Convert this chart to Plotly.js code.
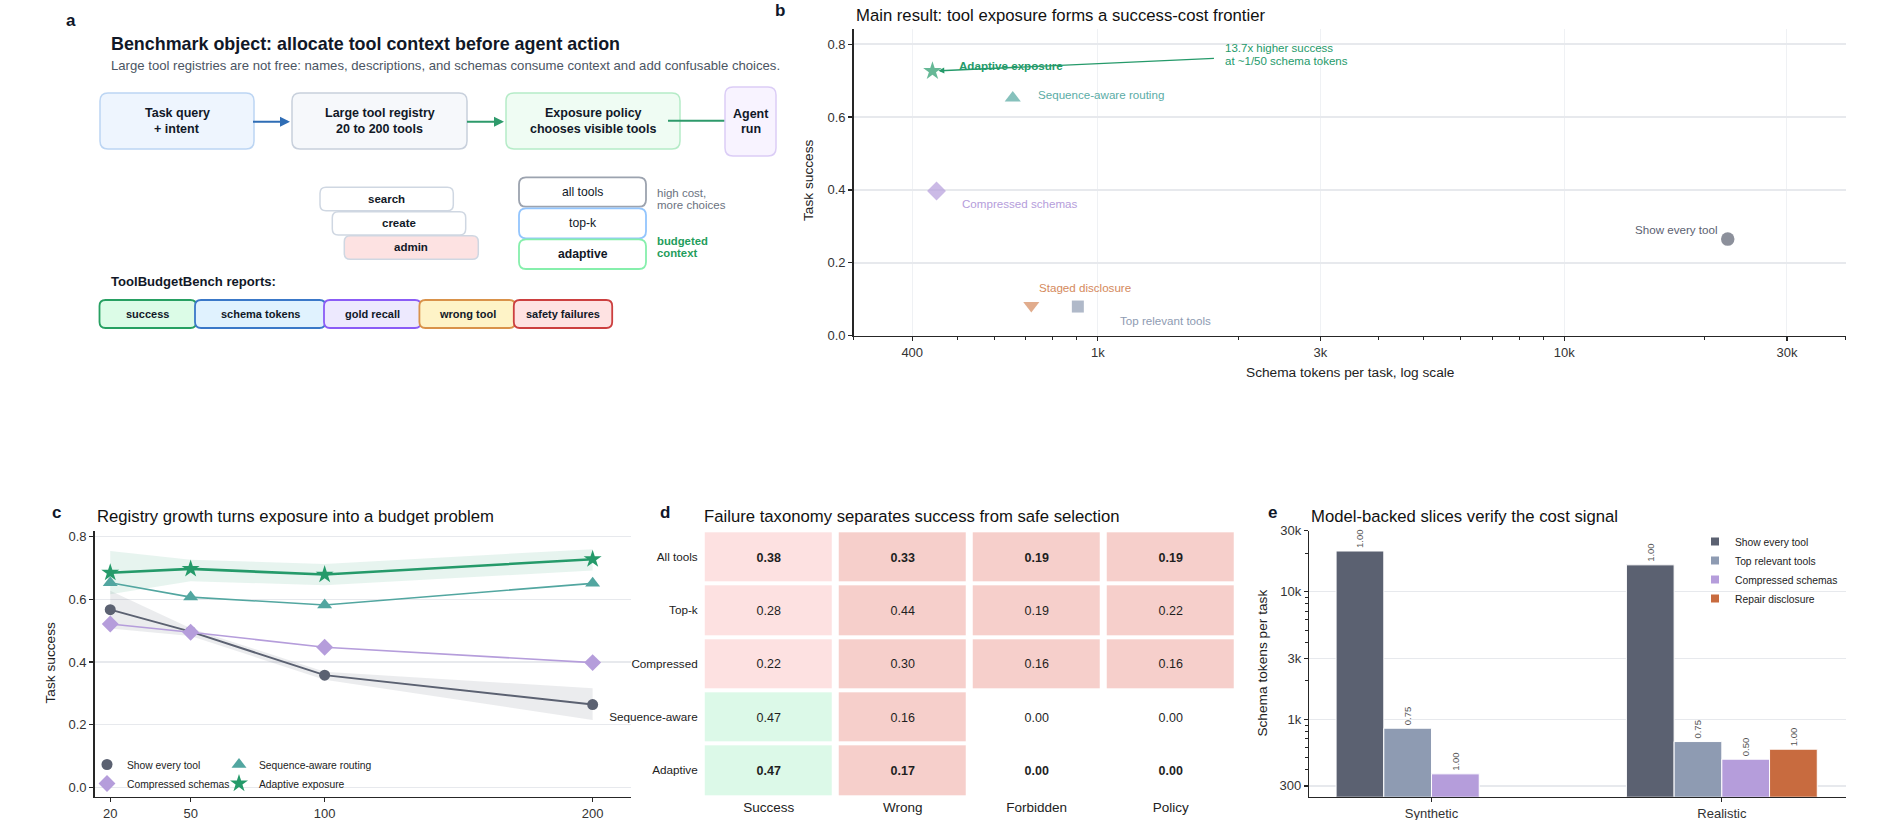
<!DOCTYPE html>
<html>
<head>
<meta charset="utf-8">
<script src="https://cdn.plot.ly/plotly-3.0.1.min.js"></script>
<style>
html,body{margin:0;padding:0;background:#ffffff;overflow:hidden}
#fig{width:1900px;height:820px}
</style>
</head>
<body>
<div id="fig"></div>
<script>
// ================= DATA =================
// Panel a (diagram labels)
const flowSteps = [['Task query','+ intent'], ['Large tool registry','20 to 200 tools'], ['Exposure policy','chooses visible tools'], ['Agent','run']];
const registryTools = ['search', 'create', 'admin'];
const exposureModes = ['all tools', 'top-k', 'adaptive'];
const reportMetrics = ['success', 'schema tokens', 'gold recall', 'wrong tool', 'safety failures'];

// Panel b: success-cost frontier
const frontierPolicies = ['Show every tool', 'Top relevant tools', 'Compressed schemas', 'Staged disclosure', 'Sequence-aware routing', 'Adaptive exposure'];
const frontierTokens  = [22400, 906, 451, 720, 657, 442];
const frontierSuccess = [0.265, 0.080, 0.397, 0.083, 0.652, 0.726];

// Panel c: registry growth
const registrySizes = [20, 50, 100, 200];
const showEverySuccess  = [0.567, 0.497, 0.358, 0.264];
const showEveryLow      = [0.507, 0.483, 0.343, 0.215];
const showEveryHigh     = [0.627, 0.508, 0.369, 0.316];
const compressedSuccess = [0.521, 0.495, 0.447, 0.398];
const sequenceSuccess   = [0.653, 0.607, 0.582, 0.651];
const adaptiveSuccess   = [0.685, 0.697, 0.679, 0.728];
const adaptiveLow       = [0.616, 0.658, 0.645, 0.692];
const adaptiveHigh      = [0.754, 0.726, 0.713, 0.760];

// Panel d: failure taxonomy
const taxonomyRows = ['All tools', 'Top-k', 'Compressed', 'Sequence-aware', 'Adaptive'];
const taxonomyCols = ['Success', 'Wrong<br>tool', 'Forbidden', 'Policy<br>violation'];
const successRate         = [0.38, 0.28, 0.22, 0.47, 0.47];
const wrongToolRate       = [0.33, 0.44, 0.30, 0.16, 0.17];
const forbiddenRate       = [0.19, 0.19, 0.16, 0.00, 0.00];
const policyViolationRate = [0.19, 0.22, 0.16, 0.00, 0.00];
const highlightedRows = ['All tools', 'Adaptive'];

// Panel e: model-backed slices
const slices = ['Synthetic', 'Realistic'];
const showEveryTokens   = [20800, 16200];
const topRelevantTokens = [850, 668];
const compressedTokens  = [373, 486];
const repairTokens      = [null, 582];
const showEverySliceSuccess   = [1.00, 1.00];
const topRelevantSliceSuccess = [0.75, 0.75];
const compressedSliceSuccess  = [1.00, 0.50];
const repairSliceSuccess      = [null, 1.00];

// ================= STYLE / LAYOUT HELPERS =================
const W = 1900, H = 820;
const fx = x => x / W;
const fy = y => 1 - y / H;
const FONT = 'Liberation Sans, Arial, Helvetica, sans-serif';
const INK = '#111827';
const f = (size, color, weight) => ({family: FONT, size: size, color: color || INK, weight: weight || 400});

const C = {
  every: '#5b6171', top: '#8e9bb2', comp: '#b59ddb', staged: '#d4895c',
  seq: '#52a6a0', adapt: '#259a6a', repair: '#c86b3f'
};

const shapes = [];
const ann = [];
function txt(x, y, t, o) {
  ann.push(Object.assign({xref: 'paper', yref: 'paper', x: fx(x), y: fy(y), text: t, showarrow: false,
    xanchor: 'center', yanchor: 'middle', font: f(12)}, o || {}));
}
function rrect(x0, y0, x1, y1, r) {
  const rx = r / W, ry = r / H;
  const X0 = fx(x0), X1 = fx(x1), T = fy(y0), B = fy(y1);
  return `M${X0 + rx},${T} L${X1 - rx},${T} Q${X1},${T} ${X1},${T - ry} L${X1},${B + ry} Q${X1},${B} ${X1 - rx},${B} ` +
         `L${X0 + rx},${B} Q${X0},${B} ${X0},${B + ry} L${X0},${T - ry} Q${X0},${T} ${X0 + rx},${T} Z`;
}
function box(x0, y0, x1, y1, r, fill, line, lw) {
  shapes.push({type: 'path', xref: 'paper', yref: 'paper', path: rrect(x0, y0, x1, y1, r),
    fillcolor: fill, line: {color: line, width: lw || 1.5}, layer: 'above'});
}

// ================= PANEL a (diagram) =================
txt(71, 20, 'a', {font: f(17, '#0f172a', 700)});
txt(108.7, 44, 'Benchmark object: allocate tool context before agent action', {xanchor: 'left', font: f(17.9, INK, 700)});
txt(108.7, 66, 'Large tool registries are not free: names, descriptions, and schemas consume context and add confusable choices.', {xanchor: 'left', font: f(13.15, '#4b5563')});

const flowGeom = [
  {x0: 100, y0: 93, x1: 254, y1: 149, fill: '#eef5fe', line: '#bcd5f3'},
  {x0: 292, y0: 93, x1: 467, y1: 149, fill: '#f6f8fb', line: '#c8d0dc'},
  {x0: 506, y0: 93, x1: 680, y1: 149, fill: '#effcf3', line: '#b5ebc7'},
  {x0: 725, y0: 87, x1: 776, y1: 156, fill: '#f8f3ff', line: '#dbcdf6'}
];
ann.push({xref: 'paper', yref: 'paper', x: fx(290), y: fy(121.7), ax: -38.5, ay: 0, text: '', showarrow: true,
  arrowhead: 2, arrowsize: 1, arrowwidth: 2, arrowcolor: '#2f6db5', standoff: 0});
ann.push({xref: 'paper', yref: 'paper', x: fx(504), y: fy(121.7), ax: -38.5, ay: 0, text: '', showarrow: true,
  arrowhead: 2, arrowsize: 1, arrowwidth: 2, arrowcolor: '#2e9a6b', standoff: 0});
flowGeom.forEach((g, i) => {
  if (i === 3) {
    shapes.push({type: 'line', xref: 'paper', yref: 'paper', x0: fx(668), x1: fx(726), y0: fy(120.7), y1: fy(120.7),
      line: {color: '#2e9a6b', width: 2}, layer: 'above'});
  }
  box(g.x0, g.y0, g.x1, g.y1, 8, g.fill, g.line, 1.5);
  const cx = (g.x0 + g.x1) / 2, cy = (g.y0 + g.y1) / 2;
  txt(cx, cy - 7.6, flowSteps[i][0], {font: f(12.5, INK, 700)});
  txt(cx, cy + 7.6, flowSteps[i][1], {font: f(12.5, INK, 700)});
});

const toolGeom = [
  {x0: 320, y0: 187.3, x1: 453.3, y1: 210.7, fill: '#ffffff'},
  {x0: 332.3, y0: 211.7, x1: 465.7, y1: 235, fill: '#ffffff'},
  {x0: 344.3, y0: 235.7, x1: 478.3, y1: 259.3, fill: '#fde2e2'}
];
toolGeom.forEach((g, i) => {
  box(g.x0, g.y0, g.x1, g.y1, 6, g.fill, '#cfd7e2', 1.5);
  txt((g.x0 + g.x1) / 2, (g.y0 + g.y1) / 2, registryTools[i], {font: f(11.5, INK, 700)});
});

const modeGeom = [
  {y0: 177.3, y1: 206.7, line: '#9ca3af', w: 400},
  {y0: 208.3, y1: 238.3, line: '#93c5fd', w: 400},
  {y0: 239.3, y1: 269, line: '#86efac', w: 700}
];
modeGeom.forEach((g, i) => {
  box(519, g.y0, 646, g.y1, 7, '#ffffff', g.line, 1.8);
  txt(582.5, (g.y0 + g.y1) / 2, exposureModes[i], {font: f(12.2, INK, g.w)});
});
txt(655, 192.7, 'high cost,', {xanchor: 'left', font: f(11.5, '#6b7280')});
txt(655, 205, 'more choices', {xanchor: 'left', font: f(11.5, '#6b7280')});
txt(655, 241, 'budgeted', {xanchor: 'left', font: f(11.3, '#1f9d5c', 700)});
txt(655, 253.5, 'context', {xanchor: 'left', font: f(11.3, '#1f9d5c', 700)});

txt(108.7, 281.7, 'ToolBudgetBench reports:', {xanchor: 'left', font: f(13.1, INK, 700)});
const reportGeom = [
  {x0: 99.5, x1: 196.4, fill: '#dcfce7', line: '#27a062'},
  {x0: 195, x1: 325.5, fill: '#e0f2fe', line: '#3a78c8'},
  {x0: 324, x1: 421, fill: '#ede9fe', line: '#8b5cf6'},
  {x0: 419.4, x1: 515.3, fill: '#fef3c7', line: '#d9924a'},
  {x0: 513.8, x1: 612.2, fill: '#fee2e2', line: '#cc3f3f'}
];
reportGeom.forEach((g, i) => {
  box(g.x0, 300, g.x1, 328, 6, g.fill, g.line, 1.8);
  txt((g.x0 + g.x1) / 2, 314, reportMetrics[i], {font: f(11, INK, 700)});
});

// ================= PANEL TITLES / LABELS =================
txt(780, 10, 'b', {font: f(17, '#0f172a', 700)});
txt(853.6, 15, 'Main result: tool exposure forms a success-cost frontier', {xanchor: 'left', font: f(16.7, '#111')});
txt(809, 180, 'Task success', {textangle: -90, font: f(13.7, '#222')});
txt(1349.6, 372.7, 'Schema tokens per task, log scale', {font: f(13.7, '#222')});

txt(56.5, 512.5, 'c', {font: f(17, '#0f172a', 700)});
txt(94.7, 516, 'Registry growth turns exposure into a budget problem', {xanchor: 'left', font: f(16.7, '#111')});
txt(49.5, 663, 'Task success', {textangle: -90, font: f(13.7, '#222')});

txt(665, 512, 'd', {font: f(17, '#0f172a', 700)});
txt(702, 516, 'Failure taxonomy separates success from safe selection', {xanchor: 'left', font: f(16.7, '#111')});

txt(1272, 512.5, 'e', {font: f(17, '#0f172a', 700)});
txt(1309.3, 516, 'Model-backed slices verify the cost signal', {xanchor: 'left', font: f(16.7, '#111')});
txt(1261.6, 663, 'Schema tokens per task', {textangle: -90, font: f(13.7, '#222')});

// ================= PANEL b traces & labels =================
const frontierColors = [C.every, C.top, C.comp, C.staged, C.seq, C.adapt];
const frontierSymbols = ['circle', 'square', 'diamond', 'triangle-down', 'triangle-up', 'star'];
const frontierSizes = [13.5, 12, 14.5, 14, 14, 14];
const traces = [];
traces.push({type: 'scatter', mode: 'markers', x: frontierTokens, y: frontierSuccess, text: frontierPolicies,
  marker: {color: frontierColors, symbol: frontierSymbols, size: frontierSizes, line: {width: 0}},
  xaxis: 'x', yaxis: 'y', showlegend: false, hoverinfo: 'text', cliponaxis: false});

const frontierLabelStyle = {
  'Show every tool':       {dx: -8,   dy: 10,  anchor: 'right', color: C.every, w: 400},
  'Top relevant tools':    {dx: 40,   dy: -13.6, anchor: 'left', color: C.top, w: 400},
  'Compressed schemas':    {dx: 23.6, dy: -12.3, anchor: 'left', color: C.comp, w: 400},
  'Staged disclosure':     {dx: 5.6,  dy: 18,  anchor: 'left', color: C.staged, w: 400},
  'Sequence-aware routing':{dx: 23,   dy: 4,   anchor: 'left', color: '#5aaca6', w: 400},
  'Adaptive exposure':     {dx: 24.4, dy: 6,   anchor: 'left', color: C.adapt, w: 700}
};
frontierPolicies.forEach((p, i) => {
  const s = frontierLabelStyle[p];
  ann.push({xref: 'x', yref: 'y', x: Math.log10(frontierTokens[i]), y: frontierSuccess[i], text: p, showarrow: false,
    xanchor: s.anchor, yanchor: 'middle', xshift: s.dx, yshift: s.dy, font: f(11.6, s.color, s.w)});
});
const iAd = frontierPolicies.indexOf('Adaptive exposure');
ann.push({xref: 'x', yref: 'y', x: Math.log10(frontierTokens[iAd]), y: frontierSuccess[iAd], text: '', showarrow: true,
  ax: 283, ay: -12.7, arrowhead: 2, arrowsize: 0.9, arrowwidth: 1.3, arrowcolor: C.adapt, standoff: 6});
ann.push({xref: 'x', yref: 'y', x: Math.log10(frontierTokens[iAd]), y: frontierSuccess[iAd], text: '13.7x higher success',
  showarrow: false, xanchor: 'left', yanchor: 'middle', xshift: 290.6, yshift: 23.3, font: f(11.5, C.adapt)});
ann.push({xref: 'x', yref: 'y', x: Math.log10(frontierTokens[iAd]), y: frontierSuccess[iAd], text: 'at ~1/50 schema tokens',
  showarrow: false, xanchor: 'left', yanchor: 'middle', xshift: 290.6, yshift: 9.7, font: f(11.5, C.adapt)});

// ================= PANEL c traces =================
const band = (lo, hi, color) => ({type: 'scatter', mode: 'lines', x: registrySizes.concat(registrySizes.slice().reverse()),
  y: hi.concat(lo.slice().reverse()), fill: 'toself', fillcolor: color, line: {width: 0, color: 'rgba(0,0,0,0)'},
  xaxis: 'x2', yaxis: 'y2', showlegend: false, hoverinfo: 'skip'});
traces.push(band(showEveryLow, showEveryHigh, 'rgba(91,97,113,0.12)'));
traces.push(band(adaptiveLow, adaptiveHigh, 'rgba(37,154,106,0.11)'));
const growthSeries = [
  {y: showEverySuccess,  name: 'Show every tool',        color: C.every, symbol: 'circle',      size: 11, lw: 2,   legend: 'legend'},
  {y: compressedSuccess, name: 'Compressed schemas',     color: C.comp,  symbol: 'diamond',     size: 13, lw: 1.6, legend: 'legend'},
  {y: sequenceSuccess,   name: 'Sequence-aware routing', color: C.seq,   symbol: 'triangle-up', size: 13, lw: 1.6, legend: 'legend2'},
  {y: adaptiveSuccess,   name: 'Adaptive exposure',      color: C.adapt, symbol: 'star',        size: 13.5, lw: 2.6, legend: 'legend2'}
];
growthSeries.forEach(s => {
  traces.push({type: 'scatter', mode: 'lines+markers', x: registrySizes, y: s.y, name: s.name,
    line: {color: s.color, width: s.lw}, marker: {color: s.color, symbol: s.symbol, size: s.size},
    xaxis: 'x2', yaxis: 'y2', showlegend: false, cliponaxis: false});
});
// legend entries (marker-only keys, like the reference)
growthSeries.forEach(s => {
  traces.push({type: 'scatter', mode: 'markers', x: [null], y: [null], name: s.name,
    marker: {color: s.color, symbol: s.symbol, size: s.size}, xaxis: 'x2', yaxis: 'y2', legend: s.legend, hoverinfo: 'skip'});
});

// ================= PANEL d heatmap =================
const taxonomyValues = taxonomyRows.map((r, i) => [successRate[i], wrongToolRate[i], forbiddenRate[i], policyViolationRate[i]]);
const colorCode = taxonomyValues.map(row => row.map((v, j) => j === 0 ? (v >= 0.4 ? 3 : 1) : (v > 0 ? 2 : 0)));
const cellText = taxonomyValues.map((row, i) => row.map(v => highlightedRows.includes(taxonomyRows[i]) ? '<b>' + v.toFixed(2) + '</b>' : v.toFixed(2)));
traces.push({type: 'heatmap', x: taxonomyCols, y: taxonomyRows, z: colorCode, zmin: 0, zmax: 3, showscale: false,
  colorscale: [[0, '#ffffff'], [0.1667, '#ffffff'], [0.1667, '#fde1e1'], [0.5, '#fde1e1'], [0.5, '#f6cfcb'], [0.8333, '#f6cfcb'], [0.8333, '#dcf9e8'], [1, '#dcf9e8']],
  text: cellText, texttemplate: '%{text}', textfont: {family: FONT, size: 12.5, color: '#1f1f1f'},
  xgap: 7, ygap: 4, hoverinfo: 'skip', xaxis: 'x3', yaxis: 'y3'});

// ================= PANEL e bars =================
const barSeries = [
  {y: showEveryTokens,   s: showEverySliceSuccess,   name: 'Show every tool',    color: C.every},
  {y: topRelevantTokens, s: topRelevantSliceSuccess, name: 'Top relevant tools', color: C.top},
  {y: compressedTokens,  s: compressedSliceSuccess,  name: 'Compressed schemas', color: C.comp},
  {y: repairTokens,      s: repairSliceSuccess,      name: 'Repair disclosure',  color: C.repair}
];
barSeries.forEach(b => {
  traces.push({type: 'bar', x: slices, y: b.y, name: b.name,
    marker: {color: b.color, line: {color: '#ffffff', width: 1}},
    text: b.s.map(v => v == null ? '' : v.toFixed(2)), textposition: 'outside', textangle: -90, constraintext: 'none',
    textfont: {family: FONT, size: 9.5, color: '#555'}, cliponaxis: false, xaxis: 'x4', yaxis: 'y4', showlegend: false, hoverinfo: 'skip'});
});
barSeries.forEach(b => {
  traces.push({type: 'scatter', mode: 'markers', x: [null], y: [null], name: b.name,
    marker: {color: b.color, symbol: 'square', size: 8}, xaxis: 'x4', yaxis: 'y4', legend: 'legend3', hoverinfo: 'skip'});
});

// ================= AXES =================
const AX = {showline: true, linecolor: '#262626', linewidth: 1.5, ticks: 'outside', ticklen: 4, tickwidth: 1.2,
  tickcolor: '#262626', tickfont: f(13, '#333'), zeroline: false, mirror: false, fixedrange: true};
const GRID = '#e7e9ed';
const LEG = {xanchor: 'left', yanchor: 'top', bgcolor: 'rgba(0,0,0,0)', borderwidth: 0, font: f(10.3, '#222'), itemwidth: 30, tracegroupgap: 0};

const layout = {
  width: W, height: H, margin: {l: 0, r: 0, t: 0, b: 0}, paper_bgcolor: '#ffffff', plot_bgcolor: 'rgba(0,0,0,0)',
  font: {family: FONT, color: '#222'}, showlegend: true, bargap: 0.3425, bargroupgap: 0, barmode: 'group',
  xaxis: Object.assign({}, AX, {domain: [fx(853.6), fx(1845.7)], anchor: 'y', type: 'log',
    range: [Math.log10(299.5), Math.log10(40100)], tickmode: 'array', tickvals: [400, 1000, 3000, 10000, 30000],
    ticktext: ['400', '1k', '3k', '10k', '30k'], showgrid: true, gridcolor: '#eff1f4', gridwidth: 1,
    minor: {tickmode: 'array', tickvals: [300, 500, 600, 700, 800, 900, 2000, 4000, 5000, 6000, 7000, 8000, 9000, 20000, 40000],
      ticks: 'outside', ticklen: 3, tickcolor: '#262626', tickwidth: 1, showgrid: false}}),
  yaxis: Object.assign({}, AX, {domain: [fy(335.7), fy(29.3)], anchor: 'x', range: [0, 0.8406],
    tickmode: 'array', tickvals: [0, 0.2, 0.4, 0.6, 0.8], tickformat: '.1f', showgrid: true, gridcolor: GRID, gridwidth: 1.5}),

  xaxis2: Object.assign({}, AX, {domain: [fx(94.7), fx(630.7)], anchor: 'y2', range: [14.2, 214.2],
    tickmode: 'array', tickvals: registrySizes, showgrid: false}),
  yaxis2: Object.assign({}, AX, {domain: [fy(796.7), fy(530.7)], anchor: 'x2', range: [-0.03, 0.819],
    tickmode: 'array', tickvals: [0, 0.2, 0.4, 0.6, 0.8], tickformat: '.1f', showgrid: true, gridcolor: GRID, gridwidth: 1.2}),

  xaxis3: {domain: [fx(701.7), fx(1237.7)], anchor: 'y3', type: 'category', showline: false, showgrid: false, zeroline: false,
    ticks: '', tickfont: f(13.5, '#222'), fixedrange: true},
  yaxis3: {domain: [fy(797), fy(530.3)], anchor: 'x3', type: 'category', autorange: 'reversed', showline: false, showgrid: false,
    zeroline: false, ticks: '', tickfont: f(11.7, '#222'), ticklabelstandoff: 3, fixedrange: true},

  xaxis4: Object.assign({}, AX, {domain: [fx(1309.3), fx(1845.8)], anchor: 'y4', type: 'category', range: [-0.421, 1.427], showgrid: false}),
  yaxis4: Object.assign({}, AX, {domain: [fy(796.7), fy(530.7)], anchor: 'x4', type: 'log', range: [Math.log10(247), Math.log10(30000)],
    tickmode: 'array', tickvals: [300, 1000, 3000, 10000, 30000], ticktext: ['300', '1k', '3k', '10k', '30k'],
    showgrid: true, gridcolor: GRID, gridwidth: 1.2,
    minor: {tickmode: 'array', tickvals: [400, 500, 600, 700, 800, 900, 2000, 4000, 5000, 6000, 7000, 8000, 9000, 20000],
      ticks: 'outside', ticklen: 3, tickcolor: '#262626', tickwidth: 1, showgrid: false}}),

  legend:  Object.assign({}, LEG, {x: fx(87), y: fy(750)}),
  legend2: Object.assign({}, LEG, {x: fx(219), y: fy(750)}),
  legend3: Object.assign({}, LEG, {x: fx(1695), y: fy(527)}),

  shapes: shapes,
  annotations: ann
};

Plotly.newPlot(fig, traces, layout, {staticPlot: true, displayModeBar: false});
</script>
</body>
</html>
